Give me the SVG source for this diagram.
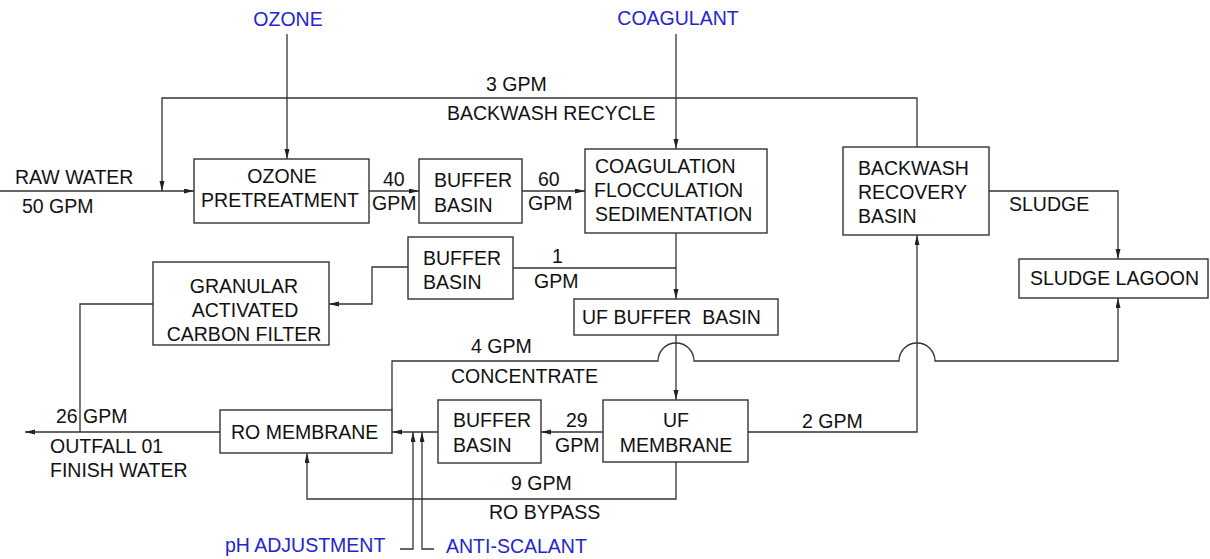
<svg xmlns="http://www.w3.org/2000/svg" width="1210" height="559" viewBox="0 0 1210 559">
  <style>
    text { font-family: "Liberation Sans", Arial, sans-serif; font-size: 19.5px; fill: #111; }
    .chem { fill: #2424d0; }
    .mid { text-anchor: middle; }
    .box { fill: #fff; stroke: #333; stroke-width: 1.4; }
    .line { fill: none; stroke: #333; stroke-width: 1.3; }
    .arr { marker-end: url(#ah); }
  </style>
  <defs>
    <marker id="ah" markerUnits="userSpaceOnUse" markerWidth="11" markerHeight="6" refX="10" refY="2.5" orient="auto">
      <path d="M0,0 L10,2.5 L0,5 z" fill="#222"/>
    </marker>
  </defs>

  <rect width="1210" height="559" fill="#fff"/>

  <!-- process flow lines -->
  <g id="connectors">
    <!-- raw water inlet -->
    <path class="line arr" d="M0,191 H194"/>
    <!-- ozone feed -->
    <path class="line arr" d="M287,34 V159"/>
    <!-- coagulant feed -->
    <path class="line arr" d="M676,34 V149"/>
    <!-- backwash recycle -->
    <path class="line arr" d="M917,147 V98 H162 V191"/>
    <!-- ozone to buffer basin, 40 GPM -->
    <path class="line arr" d="M369,191 H419"/>
    <!-- buffer basin to coagulation, 60 GPM -->
    <path class="line arr" d="M522,191 H585"/>
    <!-- sedimentation to UF buffer basin -->
    <path class="line arr" d="M676,233 V299"/>
    <!-- 1 GPM side stream -->
    <path class="line" d="M676,268 H513"/>
    <!-- buffer basin to GAC -->
    <path class="line arr" d="M408,267 H372 V304 H329"/>
    <!-- GAC to outfall -->
    <path class="line" d="M153,304 H80 V432"/>
    <!-- UF buffer basin to UF membrane -->
    <path class="line arr" d="M676,335 V400"/>
    <!-- sludge to lagoon -->
    <path class="line arr" d="M989,191 H1118 V259"/>
    <!-- UF backwash, 2 GPM -->
    <path class="line arr" d="M748,432 H917 V235"/>
    <!-- RO concentrate, 4 GPM, with line jumps -->
    <path class="line arr" d="M392,410 V361 H658 A18,18 0 0 1 694,361 H899 A18,18 0 0 1 935,361 H1118 V298"/>
    <!-- UF permeate to buffer basin, 29 GPM -->
    <path class="line arr" d="M603,432 H541"/>
    <!-- buffer basin to RO -->
    <path class="line arr" d="M438,432 H392"/>
    <!-- RO bypass, 9 GPM -->
    <path class="line arr" d="M676,462 V499 H307 V453"/>
    <!-- chemical dosing -->
    <path class="line arr" d="M400,549 H413 V432"/>
    <path class="line arr" d="M434,549 H422 V432"/>
    <!-- finished water outfall -->
    <path class="line arr" d="M220,432 H25"/>
  </g>

  <g id="ozone-pretreatment">
    <rect class="box" x="194" y="159" width="175" height="64"/>
    <text class="mid" x="282" y="183">OZONE</text>
    <text class="mid" x="280" y="207">PRETREATMENT</text>
  </g>

  <g id="buffer-basin-1">
    <rect class="box" x="419" y="159" width="103" height="64"/>
    <text x="434" y="187">BUFFER</text>
    <text x="434" y="212">BASIN</text>
  </g>

  <g id="coagulation">
    <rect class="box" x="585" y="149" width="182" height="84"/>
    <text x="595" y="173">COAGULATION</text>
    <text x="594" y="197">FLOCCULATION</text>
    <text x="595" y="221">SEDIMENTATION</text>
  </g>

  <g id="backwash-recovery">
    <rect class="box" x="843" y="147" width="146" height="88"/>
    <text x="858" y="175">BACKWASH</text>
    <text x="858" y="199">RECOVERY</text>
    <text x="858" y="223">BASIN</text>
  </g>

  <g id="sludge-lagoon">
    <rect class="box" x="1019" y="259" width="189" height="39"/>
    <text x="1030" y="285">SLUDGE LAGOON</text>
  </g>

  <g id="buffer-basin-2">
    <rect class="box" x="408" y="237" width="105" height="62"/>
    <text x="423" y="265">BUFFER</text>
    <text x="423" y="289">BASIN</text>
  </g>

  <g id="gac-filter">
    <rect class="box" x="153" y="262" width="176" height="83"/>
    <text class="mid" x="244" y="293">GRANULAR</text>
    <text class="mid" x="245" y="317">ACTIVATED</text>
    <text class="mid" x="244" y="341">CARBON FILTER</text>
  </g>

  <g id="uf-buffer-basin">
    <rect class="box" x="574" y="299" width="204" height="36"/>
    <text x="582" y="324" xml:space="preserve">UF BUFFER  BASIN</text>
  </g>

  <g id="uf-membrane">
    <rect class="box" x="603" y="400" width="145" height="62"/>
    <text class="mid" x="676" y="427">UF</text>
    <text class="mid" x="676" y="452">MEMBRANE</text>
  </g>

  <g id="buffer-basin-3">
    <rect class="box" x="438" y="400" width="103" height="63"/>
    <text x="453" y="427">BUFFER</text>
    <text x="453" y="452">BASIN</text>
  </g>

  <g id="ro-membrane">
    <rect class="box" x="220" y="410" width="172" height="43"/>
    <text x="231" y="439">RO MEMBRANE</text>
  </g>

  <!-- chemical additions -->
  <g id="chemicals">
    <text class="chem mid" x="288" y="26">OZONE</text>
    <text class="chem mid" x="678" y="25">COAGULANT</text>
    <text class="chem" x="225" y="552">pH ADJUSTMENT</text>
    <text class="chem" x="446" y="553">ANTI-SCALANT</text>
  </g>

  <!-- stream labels -->
  <g id="labels">
    <text x="15" y="184">RAW WATER</text>
    <text x="22" y="213">50 GPM</text>
    <text x="383" y="186">40</text>
    <text x="372" y="210">GPM</text>
    <text x="538" y="186">60</text>
    <text x="528" y="210">GPM</text>
    <text x="486" y="91">3 GPM</text>
    <text x="447" y="120">BACKWASH RECYCLE</text>
    <text x="1009" y="211">SLUDGE</text>
    <text x="552" y="263">1</text>
    <text x="534" y="288">GPM</text>
    <text x="471" y="353">4 GPM</text>
    <text x="451" y="383">CONCENTRATE</text>
    <text x="566" y="427">29</text>
    <text x="555" y="452">GPM</text>
    <text x="802" y="428">2 GPM</text>
    <text x="56" y="423">26 GPM</text>
    <text x="50" y="453">OUTFALL 01</text>
    <text x="50" y="477">FINISH WATER</text>
    <text x="511" y="490">9 GPM</text>
    <text x="489" y="519">RO BYPASS</text>
  </g>
</svg>
